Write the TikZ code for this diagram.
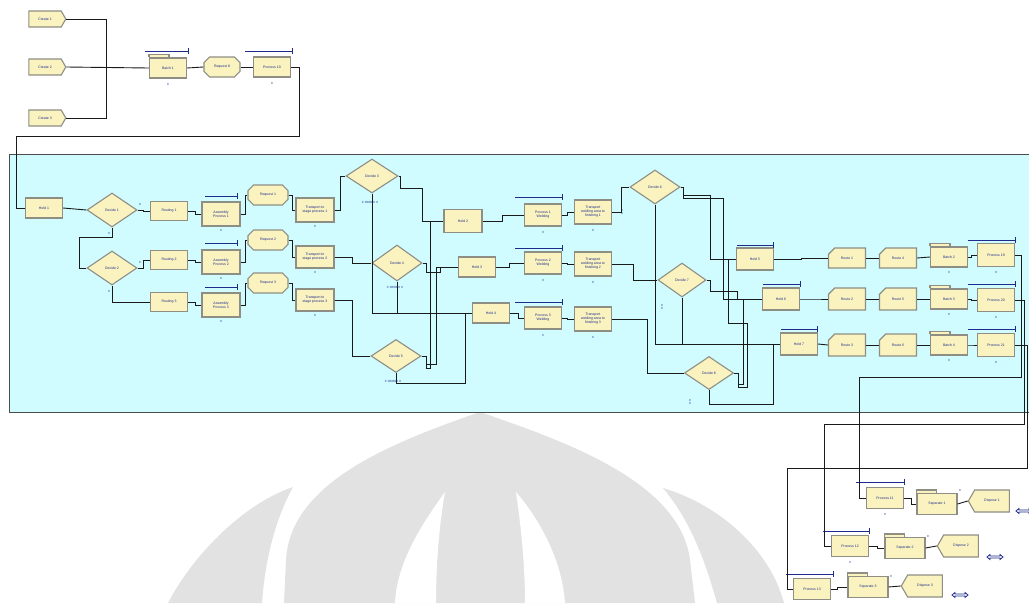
\documentclass[tikz,border=0pt]{standalone}
\usepackage{fontspec}
\newfontfamily\arial{Liberation Sans}
\usetikzlibrary{shapes.geometric,shapes.symbols,shapes.misc}
\definecolor{modf}{HTML}{FAF3BF}
\definecolor{modb}{HTML}{8E8E84}
\definecolor{navy}{HTML}{1E2A8C}
\definecolor{panelc}{HTML}{D0FCFF}
\definecolor{wm}{HTML}{E2E2E2}
\definecolor{conn}{HTML}{1A1A1A}
\newcommand\qbar[3]{\draw[qbarline] (#1,#3) -- (#2,#3); \draw[qbarline] (#2,#3-3) -- (#2,#3+3);}
\newcommand\qtab[1]{\draw[draw=modb, fill=modf, line width=1.1pt] (#1.north west) -- ++(0,-3) -- ++(20,0) -- ++(0,3);}
\newcommand\qicon[3]{\draw[draw=navy, fill=white, line width=0.8pt] (#2-8,#3) -- (#2-5,#3-2.5) -- (#2-5,#3-1) -- (#2+5,#3-1) -- (#2+5,#3-2.5) -- (#2+8,#3) -- (#2+5,#3+2.5) -- (#2+5,#3+1) -- (#2-5,#3+1) -- (#2-5,#3+2.5) -- cycle; \coordinate (#1) at (#2,#3);}
\tikzset{
 mod/.style={draw=modb, fill=modf, line width=1.1pt, inner sep=0pt, font=\arial\fontsize{3.5}{3.9}\selectfont, text=navy, align=center, minimum width=37pt, minimum height=20pt},
 box/.style={mod, rectangle},
 dec/.style={mod, diamond, minimum width=50pt, minimum height=34pt},
 cre/.style={mod, signal, signal to=east, signal pointer angle=120, minimum width=37pt, minimum height=16pt},
 dis/.style={mod, signal, signal to=west, signal pointer angle=120, minimum width=41pt, minimum height=22pt},
 req/.style={mod, chamfered rectangle, chamfered rectangle xsep=4pt, chamfered rectangle ysep=4pt},
 rou/.style={mod, chamfered rectangle, chamfered rectangle corners=north west, chamfered rectangle xsep=5pt, chamfered rectangle ysep=5pt},
 con/.style={draw=conn, line width=0.9pt},
 qbarline/.style={draw=navy, line width=1pt},
 cnt/.style={font=\arial\fontsize{3}{3.4}\selectfont, text=navy, inner sep=0pt, align=center},
}
\begin{document}
\begin{tikzpicture}[x=1pt,y=-1pt]
\useasboundingbox (0,0) rectangle (1029,603);
\fill[white] (0,0) rectangle (1029,603);
% watermark
\fill[wm] (284,603) -- (286,560) .. controls (290,480) and (400,440) .. (480,412) .. controls (560,440) and (680,480) .. (690,560) -- (695,603) -- cycle;
\fill[white] (445,492) .. controls (425,520) and (397,560) .. (395,603) -- (436,603) .. controls (436,560) and (440,520) .. (445,492) -- cycle;
\fill[white] (516,492) .. controls (520,520) and (525,560) .. (525,603) -- (565,603) .. controls (562,560) and (540,520) .. (516,492) -- cycle;
\fill[wm] (293,487) .. controls (275,520) and (265,560) .. (262,603) -- (168,603) .. controls (190,560) and (240,505) .. (293,487) -- cycle;
\fill[wm] (663,488) .. controls (720,505) and (770,550) .. (784,603) -- (717,603) .. controls (705,560) and (690,520) .. (663,488) -- cycle;
% panel
\draw[fill=panelc, draw=black!70, line width=0.8pt] (9,154) rectangle (1035,412);

% ---------- top ----------
\node[cre] (c1) at (45,19) {Create 1};
\node[cre] (c2) at (45,67) {Create 2};
\node[cre] (c3) at (45,118) {Create 3};
\node[box] (b1) at (168,68) {Batch 1};
\qtab{b1}
\node[req, minimum width=36pt] (r8) at (222,67) {Request 8};
\node[box] (p10) at (272,67) {Process 10};
\qbar{145}{188}{51}
\qbar{245}{292}{51}
\node[cnt] (k1) at (168,84) {0};
\node[cnt] (k2) at (272,83) {0};
\draw[con] (c1.east) -- (106,19) -- (106,67);
\draw[con] (c3.east) -- (106,118) -- (106,67);
\draw[con] (c2.east) -- (b1.west);
\draw[con] (b1.east) -- (r8.west);
\draw[con] (r8.east) -- (p10.west);

% ---------- panel left ----------
\node[box] (h1) at (44,208) {Hold 1};
\node[dec] (d1) at (112,210) {Decide 1};
\node[dec] (d2) at (112,268) {Decide 2};
\node[box, minimum height=19pt] (rt1) at (169,211) {Routing 1};
\node[box, minimum height=19pt] (rt2) at (169,260) {Routing 2};
\node[box, minimum height=19pt] (rt3) at (169,302) {Routing 3};
\node[box, minimum height=24pt, minimum width=38pt] (ap1) at (221,214) {Assembly\\Process 1};
\node[box, minimum height=24pt, minimum width=38pt] (ap2) at (221,262) {Assembly\\Process 2};
\node[box, minimum height=24pt, minimum width=38pt] (ap3) at (221,305) {Assembly\\Process 3};
\qbar{205}{237}{196}
\qbar{205}{237}{243}
\qbar{205}{237}{287}
\node[req, minimum width=40pt] (rq1) at (268,195) {Request 1};
\node[req, minimum width=40pt] (rq2) at (268,240) {Request 2};
\node[req, minimum width=40pt] (rq3) at (268,283) {Request 3};
\node[box, minimum height=24pt, minimum width=38pt] (tr1) at (315,210) {Transport to\\stage process 1};
\node[box, minimum height=22pt, minimum width=38pt] (tr2) at (315,257) {Transport to\\stage process 2};
\node[box, minimum height=22pt, minimum width=38pt] (tr3) at (315,300) {Transport to\\stage process 3};
\node[dec, minimum width=52pt] (d3) at (372,176) {Decide 3};
\node[dec, minimum height=36pt] (d4) at (397,263) {Decide 4};
\node[dec, minimum height=33pt] (d5) at (396,356) {Decide 5};
\node[cnt] (k3) at (221,230) {0};
\node[cnt] (k4) at (221,278) {0};
\node[cnt] (k5) at (221,321) {0};
\node[cnt] (k6) at (315,226) {0};
\node[cnt] (k7) at (315,272) {0};
\node[cnt] (k8) at (315,315) {0};
\node[cnt] (k9) at (140,204) {0};
\node[cnt] (k10) at (109,233) {0};
\node[cnt] (k11) at (140,262) {0};
\node[cnt] (k12) at (109,291) {0};
\node[cnt] (k13) at (370,202) {0 \,000000\, 0};
\node[cnt] (k14) at (395,287) {0 \,000000\, 0};
\node[cnt] (k15) at (393,381) {0 \,000000\, 0};

\draw[con] (p10.east) -- (299,67) -- (299,136) -- (16,136) -- (16,208) -- (h1.west);
\draw[con] (h1.east) -- (d1.west);
\draw[con] (d1.east) -- ++(6,0) |- (rt1.west);
\draw[con] (d1.south) |- (79,237) |- (d2.west);
\draw[con] (d2.east) -- ++(6,0) |- (rt2.west);
\draw[con] (d2.south) |- (rt3.west);
\foreach \i in {1,2,3}{
  \draw[con] (rt\i.east) -- ++(7,0) |- (ap\i.west);
  \draw[con] (ap\i.east) -- ++(5,0) |- (rq\i.west);
  \draw[con] (rq\i.east) -- ++(4,0) |- (tr\i.west);
}
\draw[con] (tr1.east) -- ++(6,0) |- (d3.west);
\draw[con] (tr2.east) -- (352,257) |- (d4.west);
\draw[con] (tr3.east) -- (352,300) |- (d5.west);

% ---------- panel middle ----------
\node[box, minimum height=23pt, minimum width=38pt] (h2) at (463,221) {Hold 2};
\node[box] (h3) at (477,267) {Hold 3};
\node[box] (h4) at (491,313) {Hold 4};
\node[box, minimum height=22pt] (pw1) at (543,215) {Process 1\\Welding};
\node[box, minimum height=22pt] (pw2) at (543,263) {Process 2\\Welding};
\node[box, minimum height=22pt] (pw3) at (543,318) {Process 3\\Welding};
\qbar{515}{562}{197}
\qbar{515}{562}{248}
\qbar{515}{562}{302}
\node[box, minimum height=24pt] (tf1) at (593,212) {Transport\\welding area to\\finishing 1};
\node[box, minimum height=24pt] (tf2) at (593,264) {Transport\\welding area to\\finishing 2};
\node[box, minimum height=24pt] (tf3) at (593,319) {Transport\\welding area to\\finishing 3};
\node[cnt] (k16) at (543,232) {0};
\node[cnt] (k17) at (543,280) {0};
\node[cnt] (k18) at (543,335) {0};
\node[cnt] (k19) at (593,230) {0};
\node[cnt] (k20) at (593,282) {0};
\node[cnt] (k21) at (593,337) {0};

\draw[con] (d3.east) -- (400,176) -- (400,188) -- (422,188) |- (h2.west);
\draw[con] (d3.south) |- (h4.west);
\draw[con] (d4.south) -- (d4.south |- h4.west);
\draw[con] (d5.south) -- ++(0,10) -| (465,313);
\draw[con] (d4.east) -- ++(4,0) -- ++(0,9) -- (440,272) |- (h3.west);
\draw[con] (d5.east) -- ++(5,0) -- ++(0,12) -- (430,368) -- (430,221);
\draw[con] (d5.east) -- ++(5,0) -- ++(0,8) -- (436,364) |- (h3.west);
\draw[con] (h2.east) -- ++(20,0) |- (pw1.west);
\draw[con] (h3.east) -- ++(13,0) |- (pw2.west);
\draw[con] (h4.east) -- ++(8,0) |- (pw3.west);
\foreach \i in {1,2,3}{
  \draw[con] (pw\i.east) -- ++(5,0) |- (tf\i.west);
}

% ---------- panel right ----------
\node[dec] (d6) at (655,187) {Decide 6};
\node[dec, minimum width=48pt] (d7) at (682,280) {Decide 7};
\node[dec, minimum width=49pt, minimum height=33pt] (d8) at (709,373) {Decide 8};
\node[cnt] (k22) at (622,212) {0\\0};
\node[cnt] (k23) at (662,307) {0\\0};
\node[cnt] (k24) at (690,402) {0\\0};
\draw[con] (tf1.east) -- (621,212) |- (d6.west);
\draw[con] (tf2.east) -- (633,264) |- (d7.west);
\draw[con] (tf3.east) -- (647,319) |- (d8.west);

\node[box, minimum height=22pt] (h5) at (755,259) {Hold 5};
\node[box, minimum height=22pt] (h6) at (781,299) {Hold 6};
\node[box, minimum height=22pt] (h7) at (799,344) {Hold 7};
\qbar{737}{773}{245}
\qbar{763}{800}{284}
\qbar{781}{817}{329}

\draw[con] (d6.east) -- ++(3,0) -- ++(0,8) -- (710,195) |- (h5.west);
\draw[con] (d6.east) -- ++(3,0) -- ++(0,11) -- (723,198) |- (h6.west);
\draw[con] (d6.south) |- (h7.west);
\draw[con] (d7.south) -- (d7.south |- h7.west);
\draw[con] (d7.east) -- ++(4,0) -- ++(0,11) -- (737,291) |- (h6.west);
\draw[con] (d8.east) -- ++(4,0) -- ++(0,14) -- (747,387) -- (747,323) -- (728,323) |- (h5.west);
\draw[con] (d8.east) -- ++(4,0) -- ++(0,11) -- (743,384) |- (h6.west);
\draw[con] (d8.south) -- ++(0,14) -| (773,344) -- (h7.west);

\node[rou] (ro1) at (847,258) {Route 1};
\node[rou] (ro2) at (898,258) {Route 4};
\node[box] (bt2) at (949,257) {Batch 2};
\qtab{bt2}
\node[box, minimum height=23pt] (p19) at (996,255) {Process 19};
\node[rou, minimum height=22pt] (ro3) at (847,299) {Route 2};
\node[rou, minimum height=22pt] (ro4) at (898,299) {Route 5};
\node[box] (bt3) at (949,299) {Batch 3};
\qtab{bt3}
\node[box, minimum height=23pt] (p20) at (996,300) {Process 20};
\node[rou, minimum height=22pt] (ro5) at (847,345) {Route 3};
\node[rou, minimum height=22pt] (ro6) at (898,345) {Route 6};
\node[box] (bt4) at (949,345) {Batch 4};
\qtab{bt4}
\node[box, minimum height=23pt] (p21) at (996,345) {Process 21};
\qbar{968}{1015}{240}
\qbar{968}{1015}{284}
\qbar{968}{1015}{329}
\node[cnt] (k25) at (949,272) {0};
\node[cnt] (k26) at (996,272) {0};
\node[cnt] (k27) at (949,314) {0};
\node[cnt] (k28) at (996,317) {0};
\node[cnt] (k29) at (949,360) {0};
\node[cnt] (k30) at (996,362) {0};

\draw[con] (h5.east) -- ++(27,0) |- (ro1.west);
\draw[con] (h6.east) -- ++(15,0) |- (ro3.west);
\draw[con] (h7.east) -- (ro5.west);
\draw[con] (ro1.east) -- (ro2.west);
\draw[con] (ro2.east) -- (bt2.west);
\draw[con] (bt2.east) -- ++(3,0) |- (p19.west);
\draw[con] (ro3.east) -- (ro4.west);
\draw[con] (ro4.east) -- (bt3.west);
\draw[con] (bt3.east) -- ++(3,0) |- (p20.west);
\draw[con] (ro5.east) -- (ro6.west);
\draw[con] (ro6.east) -- (bt4.west);
\draw[con] (bt4.east) -- ++(3,0) |- (p21.west);

% ---------- bottom ----------
\node[box, minimum height=21pt] (p11) at (885,498) {Process 11};
\node[box, minimum width=40pt, minimum height=21pt] (s1) at (937,504) {Separate 1};
\qtab{s1}
\node[dis] (dp1) at (992,501) {Dispose 1};
\node[box, minimum height=21pt] (p12) at (850,546) {Process 12};
\node[box, minimum width=40pt, minimum height=21pt] (s2) at (905,548) {Separate 2};
\qtab{s2}
\node[dis] (dp2) at (961,546) {Dispose 2};
\node[box, minimum height=21pt] (p13) at (812,589) {Process 13};
\node[box, minimum width=40pt, minimum height=21pt] (s3) at (868,587) {Separate 3};
\qtab{s3}
\node[dis] (dp3) at (925,586) {Dispose 3};
\qbar{856}{904}{482}
\qbar{823}{869}{531}
\qbar{786}{833}{574}
\node[cnt] (k31) at (885,514) {0};
\node[cnt] (k32) at (850,562) {0};
\node[cnt] (k33) at (960,490) {0};
\node[cnt] (k34) at (928,536) {0};
\node[cnt] (k35) at (891,576) {0};
\qicon{i1}{1024}{511}
\qicon{i2}{995}{557}
\qicon{i3}{960}{595}

\draw[con] (p19.east) -- (1021,255) -- (1021,377) -- (859,377) |- (p11.west);
\draw[con] (p20.east) -- (1024,300) -- (1024,424) -- (824,424) |- (p12.west);
\draw[con] (p21.east) -- (1027,345) -- (1027,468) -- (787,468) |- (p13.west);
\draw[con] (p11.east) -- ++(7,0) |- (s1.west);
\draw[con] (s1.east) -- (dp1.west);
\draw[con] (p12.east) -- ++(8,0) |- (s2.west);
\draw[con] (s2.east) -- (dp2.west);
\draw[con] (p13.east) -- ++(6,0) |- (s3.west);
\draw[con] (s3.east) -- (dp3.west);
\end{tikzpicture}
\end{document}
